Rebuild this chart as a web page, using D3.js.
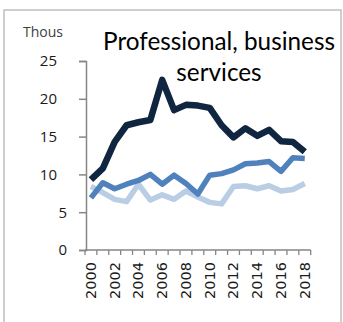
<!DOCTYPE html>
<html><head><meta charset="utf-8">
<script src="https://cdn.jsdelivr.net/npm/d3@7"></script>
<style>
html,body{margin:0;padding:0;background:#fff;}
svg{display:block;}
</style></head>
<body>
<svg id="chart" width="343" height="322"></svg>
<script>
const years = d3.range(2000, 2019).map(String);
const seriesDark = [9.3, 10.8, 14.3, 16.5, 16.9, 17.2, 22.5, 18.5, 19.2, 19.1, 18.8, 16.5, 14.9, 16.1, 15.1, 15.9, 14.4, 14.3, 13.0];
const seriesMid = [6.9, 8.9, 8.1, 8.7, 9.2, 10.0, 8.7, 9.9, 8.8, 7.4, 9.9, 10.1, 10.6, 11.4, 11.5, 11.7, 10.4, 12.2, 12.1];
const seriesLight = [8.4, 7.6, 6.7, 6.4, 8.7, 6.6, 7.3, 6.7, 7.8, 7.0, 6.3, 6.1, 8.4, 8.5, 8.1, 8.5, 7.8, 8.0, 8.8];
const yTicks = [0, 5, 10, 15, 20, 25];
const xTickLabels = years.filter((d, i) => i % 2 === 0);
const titleLines = ["Professional, business", "services"];
const unitLabel = "Thous";

const svg = d3.select("#chart");

// frame
svg.append("rect").attr("x", 4).attr("y", 10).attr("width", 337).attr("height", 330)
  .attr("fill", "none").attr("stroke", "#bfbfbf").attr("stroke-width", 1.5);

const x = d3.scaleBand().domain(years).range([85, 310.7]);
const y = d3.scaleLinear().domain([0, 25]).range([250, 61]);
const axisColor = "#868686";

// y axis
const yAxis = svg.append("g").attr("transform", "translate(86,0)")
  .call(d3.axisLeft(y).tickValues(yTicks).tickSize(7).tickPadding(12));
yAxis.select(".domain").attr("stroke", axisColor).attr("stroke-width", 1.5);
yAxis.selectAll(".tick line").attr("stroke", axisColor).attr("stroke-width", 1.5);
yAxis.selectAll(".tick text")
  .attr("font-family", "'Open Sans', sans-serif").attr("font-size", 15).attr("fill", "#1a1a1a")
  .attr("dx", d => d >= 10 ? -10 : 0);

// x axis: ticks at band boundaries
const xg = svg.append("g");
xg.append("line").attr("x1", x.range()[0]).attr("x2", x.range()[1])
  .attr("y1", y(0)).attr("y2", y(0)).attr("stroke", axisColor).attr("stroke-width", 1.5);
const bounds = years.map(d => x(d)).concat([x.range()[1]]);
xg.selectAll("line.tk").data(bounds).enter().append("line").attr("class", "tk")
  .attr("x1", d => d).attr("x2", d => d).attr("y1", y(0)).attr("y2", y(0) + 5)
  .attr("stroke", axisColor).attr("stroke-width", 1.3);
xg.selectAll("text").data(xTickLabels).enter().append("text")
  .attr("transform", d => `translate(${x(d) + x.bandwidth() / 2 + 5},${y(0) + 12}) rotate(-90)`)
  .attr("text-anchor", "end")
  .attr("font-family", "'DejaVu Sans', sans-serif").attr("font-size", 14.5).attr("fill", "#1a1a1a")
  .text(d => d);

// lines
const line = d3.line().x((d, i) => x(years[i]) + x.bandwidth() / 2).y(d => y(d));
[[seriesLight, "#b9cde5", 5.5], [seriesMid, "#4f81bd", 5.5], [seriesDark, "#10253f", 6.5]].forEach(([s, c, w]) => {
  svg.append("path").datum(s).attr("d", line).attr("fill", "none")
    .attr("stroke", c).attr("stroke-width", w).attr("stroke-linejoin", "round");
});

// unit label
svg.append("text").attr("x", 23).attr("y", 37).attr("font-family", "'Open Sans', sans-serif")
  .attr("font-size", 14).attr("fill", "#404040").text(unitLabel);

// title
const t1 = svg.append("text").attr("x", 219).attr("y", 50).attr("text-anchor", "middle")
  .attr("font-family", "Lato, sans-serif").attr("font-size", 24).attr("fill", "#000").text(titleLines[0]);
const w1 = t1.node().getComputedTextLength();
const fs = 24 * 232 / w1;
t1.attr("font-size", fs);
svg.append("text").attr("x", 219).attr("y", 81).attr("text-anchor", "middle")
  .attr("font-family", "Lato, sans-serif").attr("font-size", fs).attr("fill", "#000").text(titleLines[1]);
</script>
</body></html>
